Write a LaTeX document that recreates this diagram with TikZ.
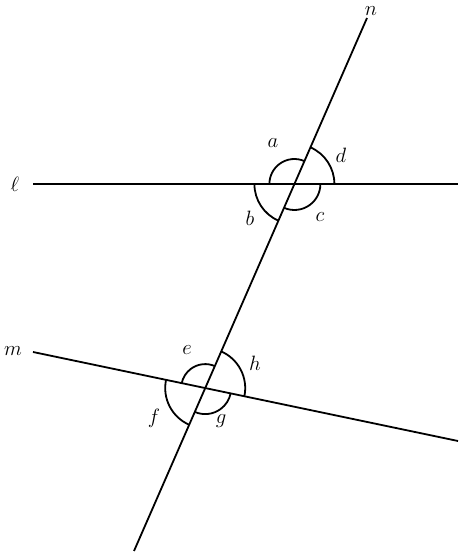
\documentclass[tikz,border=0pt]{standalone}
\begin{document}
\begin{tikzpicture}[x=1pt,y=1pt,
  ln/.style={line width=1.8pt},
  ang/.style={line width=1.8pt},
  lbl/.style={inner sep=0pt,font=\fontsize{20}{24}\selectfont}]
\useasboundingbox (0,0) rectangle (462,553);
% lines
\coordinate (l1) at (33,369);
\coordinate (l2) at (458,369);
\coordinate (n1) at (134,2);
\coordinate (n2) at (367,535);
\coordinate (m1) at (33,201);
\coordinate (m2) at (458,112);
\coordinate (P) at (294.4,369);
\coordinate (Q) at (205.2,164.9);
\draw[ln] (l1) -- (l2);
\draw[ln] (n1) -- (n2);
\draw[ln] (m1) -- (m2);
% line labels
\node[lbl] (lL) at (15,369) {$\ell$};
\node[lbl] (lM) at (13,202) {$m$};
\node[lbl] (lN) at (371,542) {$n$};
% angle arcs at P
\draw[ang] ([shift={(66.4:25)}]P) arc[start angle=66.4,end angle=180,radius=25];
\draw[ang] ([shift={(0:40)}]P) arc[start angle=0,end angle=66.4,radius=40];
\draw[ang] ([shift={(180:40)}]P) arc[start angle=180,end angle=246.4,radius=40];
\draw[ang] ([shift={(246.4:26)}]P) arc[start angle=246.4,end angle=360,radius=26];
% angle arcs at Q
\draw[ang] ([shift={(66.4:24)}]Q) arc[start angle=66.4,end angle=168.2,radius=24];
\draw[ang] ([shift={(-11.8:40)}]Q) arc[start angle=-11.8,end angle=66.4,radius=40];
\draw[ang] ([shift={(168.2:40)}]Q) arc[start angle=168.2,end angle=246.4,radius=40];
\draw[ang] ([shift={(246.4:26)}]Q) arc[start angle=246.4,end angle=348.2,radius=26];
% angle labels
\node[lbl] (la) at (273,410) {$a$};
\node[lbl] (ld) at (341,398) {$d$};
\node[lbl] (lb) at (250,335) {$b$};
\node[lbl] (lc) at (320,336) {$c$};
\node[lbl] (le) at (187,203) {$e$};
\node[lbl] (lh) at (255,190) {$h$};
\node[lbl] (lf) at (154,135) {$f$};
\node[lbl] (lg) at (221,132) {$g$};
\end{tikzpicture}
\end{document}
